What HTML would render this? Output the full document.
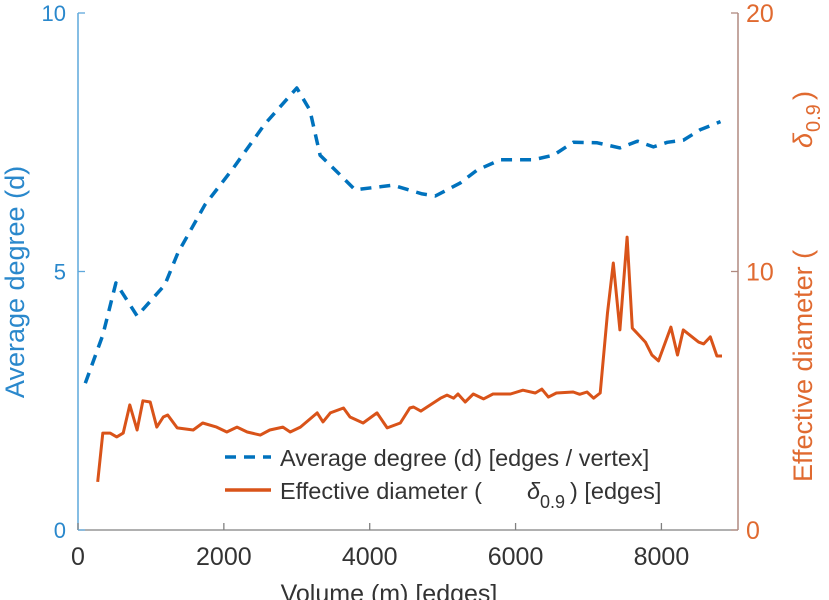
<!DOCTYPE html>
<html><head><meta charset="utf-8"><style>
body{margin:0;background:#fff;}
svg{display:block;font-family:"Liberation Sans",sans-serif;}
</style></head><body>
<svg id="chart" width="829" height="600" viewBox="0 0 829 600">
<g id="axes"></g>
<g id="series"></g>
<g id="legend">
  <line x1="225" y1="457" x2="271" y2="457" stroke="#0072BD" stroke-width="3.5" stroke-dasharray="11,8"/>
  <text x="280" y="466" font-size="23.5" fill="#333">Average degree (d) [edges / vertex]</text>
  <line x1="225" y1="490" x2="271" y2="490" stroke="#D95319" stroke-width="3.5"/>
  <text x="280" y="499" font-size="23.5" fill="#333">Effective diameter (</text>
  <text x="527" y="499" font-size="23.5" font-style="italic" fill="#333">δ</text>
  <text x="540" y="508" font-size="18" fill="#333">0.9</text>
  <text x="570" y="499" font-size="23.5" fill="#333">) [edges]</text>
</g>
</svg>
<script>
const volumeDegree=[100,340,520,810,1190,1370,1740,2130,2560,3000,3180,3320,3530,3800,4320,4720,4900,5240,5470,5790,6240,6520,6790,7120,7430,7670,7890,8080,8300,8530,8810];
const avgDegree=[2.84,3.77,4.78,4.14,4.74,5.36,6.29,7.0,7.85,8.55,8.12,7.25,6.96,6.58,6.67,6.5,6.46,6.71,6.96,7.16,7.16,7.25,7.5,7.49,7.39,7.52,7.41,7.5,7.54,7.74,7.9];
const volumeDiameter=[270,340,440,530,620,710,810,890,990,1080,1170,1230,1360,1580,1710,1900,2040,2180,2320,2500,2630,2810,2910,3050,3280,3360,3460,3640,3730,3910,4100,4240,4420,4550,4600,4700,4970,5060,5150,5210,5310,5420,5560,5690,5930,6100,6270,6360,6450,6560,6790,6880,6980,7070,7160,7260,7340,7430,7530,7600,7780,7870,7960,8130,8220,8300,8510,8580,8670,8760,8830];
const effDiameter=[1.86,3.75,3.75,3.6,3.75,4.84,3.87,5.0,4.95,3.98,4.37,4.45,3.95,3.87,4.14,3.98,3.79,3.98,3.79,3.67,3.87,3.98,3.79,3.98,4.53,4.18,4.53,4.72,4.37,4.14,4.53,3.95,4.14,4.72,4.76,4.6,5.1,5.22,5.1,5.26,4.95,5.26,5.07,5.26,5.26,5.41,5.3,5.45,5.14,5.3,5.34,5.25,5.34,5.1,5.3,8.4,10.33,7.74,11.33,7.81,7.27,6.77,6.54,7.85,6.77,7.74,7.27,7.2,7.47,6.73,6.73];
const xTicks=[0,2000,4000,6000,8000];
const yLeftTicks=[0,5,10];
const yRightTicks=[0,10,20];

const L=78,R=738,T=13,B=530;
const xS=v=>L+(v/9050)*(R-L);
const yL=v=>B-(v/10)*(B-T);
const yR=v=>B-(v/20)*(B-T);
const NS="http://www.w3.org/2000/svg";
function mk(tag,attrs,parent,txt){const e=document.createElementNS(NS,tag);for(const k in attrs)e.setAttribute(k,attrs[k]);if(txt!==undefined)e.textContent=txt;parent.appendChild(e);return e;}
const ax=document.getElementById('axes');
let e;
e=mk('line',{x1:L,y1:B,x2:R,y2:B,stroke:'#808080','stroke-width':1.3},ax);


e=mk('line',{x1:L,y1:T,x2:L,y2:B,stroke:'#5fa8dc','stroke-width':1.5},ax);


e=mk('line',{x1:R,y1:T,x2:R,y2:B,stroke:'#b08a80','stroke-width':1.5},ax);


xTicks.forEach(t=>{
  e=mk('line',{x1:xS(t),y1:B,x2:xS(t),y2:B-7,stroke:'#808080','stroke-width':1.3},ax);
  
  
  e=mk('text',{x:xS(t),y:B+35,'font-size':25,'text-anchor':'middle',fill:'#333'},ax,String(t));
  
  
});
yLeftTicks.forEach(t=>{
  e=mk('line',{x1:L,y1:yL(t),x2:L+7,y2:yL(t),stroke:'#5fa8dc','stroke-width':1.3},ax);
  
  
  e=mk('text',{x:L-12,y:yL(t)+8,'font-size':22,'text-anchor':'end',fill:'#2a88cc'},ax,String(t));
  
  
});
yRightTicks.forEach(t=>{
  e=mk('line',{x1:R,y1:yR(t),x2:R-7,y2:yR(t),stroke:'#b08a80','stroke-width':1.3},ax);
  
  
  e=mk('text',{x:R+8,y:yR(t)+9,'font-size':25,'text-anchor':'start',fill:'#e06a30'},ax,String(t));
  
  
});
e=mk('text',{x:389,y:602,'font-size':25,'text-anchor':'middle',fill:'#333'},ax,'Volume (m) [edges]');


e=mk('text',{x:0,y:0,'font-size':27,'text-anchor':'middle',fill:'#2a88cc',transform:'translate(24,282) rotate(-90)'},ax,'Average degree (d)');


const rt=mk('text',{x:0,y:0,'font-size':27,'text-anchor':'start',fill:'#e06a30',transform:'translate(812,482) rotate(-90)'},ax);


rt.innerHTML='<tspan x="0" y="0">Effective diameter (</tspan><tspan x="334" y="0" font-style="italic">δ</tspan><tspan x="350" y="8" font-size="20">0.9</tspan><tspan x="382" y="0">)</tspan>';

const sg=document.getElementById('series');
const p1=volumeDegree.map((v,i)=>xS(v).toFixed(1)+','+yL(avgDegree[i]).toFixed(1)).join(' ');
e=mk('polyline',{points:p1,fill:'none',stroke:'#0072BD','stroke-width':3.5,'stroke-dasharray':'11,8','stroke-linejoin':'round'},sg);


const p2=volumeDiameter.map((v,i)=>xS(v).toFixed(1)+','+yR(effDiameter[i]).toFixed(1)).join(' ');
e=mk('polyline',{points:p2,fill:'none',stroke:'#D95319','stroke-width':3,'stroke-linejoin':'round'},sg);


</script>
</body></html>
